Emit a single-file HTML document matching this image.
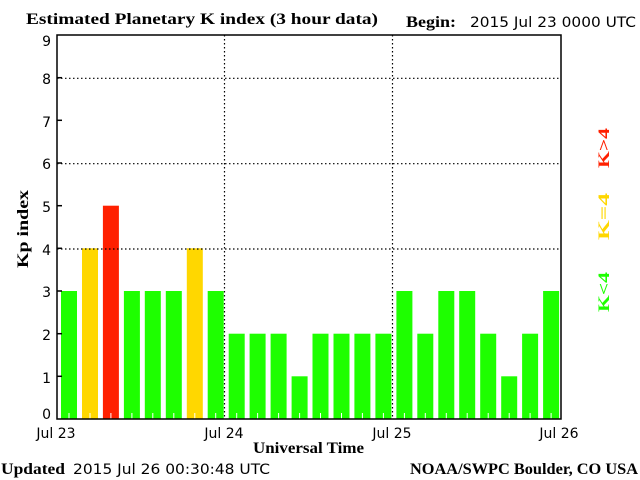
<!DOCTYPE html>
<html><head><style>
html,body{margin:0;padding:0;background:#fff;}
svg{display:block;}
.s{font-family:"DejaVu Sans","Liberation Sans",sans-serif;font-size:14px;}
.b{font-family:"Liberation Serif",serif;font-weight:bold;font-size:16px;}
</style></head><body>
<svg width="640" height="480" viewBox="0 0 640 480" xmlns="http://www.w3.org/2000/svg">
<rect width="640" height="480" fill="#fff"/>
<text x="26" y="24" class="b" textLength="352" lengthAdjust="spacingAndGlyphs">Estimated Planetary K index (3 hour data)</text>
<text x="406" y="27" class="b" textLength="50" lengthAdjust="spacingAndGlyphs">Begin:</text>
<text x="470" y="27" class="s" textLength="166" lengthAdjust="spacingAndGlyphs">2015 Jul 23 0000 UTC</text>
<g id="bars"></g>
<g stroke="#000" stroke-width="1.2" stroke-dasharray="1.5,2.5">
<line x1="57" y1="78.3" x2="561" y2="78.3"/>
<line x1="57" y1="163.7" x2="561" y2="163.7"/>
<line x1="57" y1="249" x2="561" y2="249"/>
<line x1="224.5" y1="35" x2="224.5" y2="419"/>
<line x1="392.5" y1="35" x2="392.5" y2="419"/>
</g>
<rect x="57" y="35" width="504" height="384" fill="none" stroke="#000" stroke-width="1.5"/>
<g id="ticks" stroke="#000" stroke-width="1.5"></g>
<g class="s" text-anchor="end" font-size="15">
<text x="51" y="46">9</text><text x="51" y="84">8</text><text x="51" y="127">7</text>
<text x="51" y="169">6</text><text x="51" y="212">5</text><text x="51" y="255">4</text>
<text x="51" y="297">3</text><text x="51" y="340">2</text><text x="51" y="383">1</text>
<text x="51" y="419">0</text>
</g>
<g class="s" text-anchor="middle">
<text x="56" y="438">Jul 23</text><text x="224" y="438">Jul 24</text>
<text x="392" y="438">Jul 25</text><text x="559" y="438">Jul 26</text>
</g>
<text x="253" y="453" class="b" textLength="111" lengthAdjust="spacingAndGlyphs">Universal Time</text>
<text transform="translate(28,268) rotate(-90)" class="b" textLength="78" lengthAdjust="spacingAndGlyphs">Kp index</text>
<text x="1" y="474" class="b" textLength="64" lengthAdjust="spacingAndGlyphs">Updated</text>
<text x="73" y="474" class="s" textLength="197" lengthAdjust="spacingAndGlyphs">2015 Jul 26 00:30:48 UTC</text>
<text x="410" y="474" class="b" textLength="228" lengthAdjust="spacingAndGlyphs">NOAA/SWPC Boulder, CO USA</text>
<g class="b" font-size="25">
<text transform="translate(609,168) rotate(-90)" fill="#ff2000" textLength="40" lengthAdjust="spacingAndGlyphs">K&gt;4</text>
<text transform="translate(609,240) rotate(-90)" fill="#ffd700" textLength="47" lengthAdjust="spacingAndGlyphs">K=4</text>
<text transform="translate(609,312) rotate(-90)" fill="#1eff00" textLength="40" lengthAdjust="spacingAndGlyphs">K&lt;4</text>
</g>
</svg>
<script>
var v=[3,4,5,3,3,3,4,3,2,2,2,1,2,2,2,2,3,2,3,3,2,1,2,3];
var g=document.getElementById('bars'),s='';
var u=384/9;
for(var i=0;i<v.length;i++){
 var x=61+i*20.96,h=v[i]*u,y=419-h;
 var c=v[i]<4?'#1eff00':(v[i]==4?'#ffd700':'#ff2000');
 s+='<rect x="'+x.toFixed(1)+'" y="'+y.toFixed(1)+'" width="16" height="'+h.toFixed(1)+'" fill="'+c+'"/>';
 s+='<line x1="'+(x+8).toFixed(1)+'" y1="413" x2="'+(x+8).toFixed(1)+'" y2="419" stroke="#fff" stroke-width="1"/>';
}
g.innerHTML=s;
var t='';
for(var k=1;k<9;k++){var y=419-k*u;t+='<line x1="57" y1="'+y.toFixed(1)+'" x2="62" y2="'+y.toFixed(1)+'"/>';}
document.getElementById('ticks').innerHTML=t;
</script>
</body></html>
